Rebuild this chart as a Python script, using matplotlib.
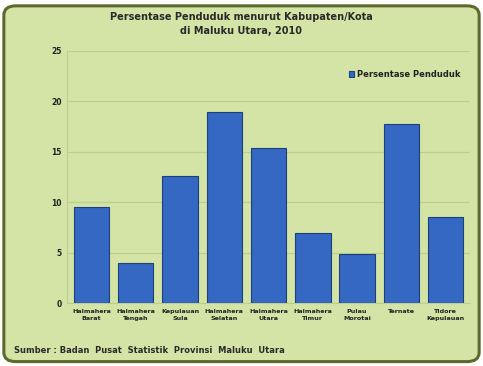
import matplotlib
matplotlib.use("Agg")
import matplotlib.pyplot as plt
from matplotlib.patches import FancyBboxPatch

categories = ["Halmahera\nBarat", "Halmahera\nTengah", "Kepulauan\nSula", "Halmahera\nSelatan",
              "Halmahera\nUtara", "Halmahera\nTimur", "Pulau\nMorotai", "Ternate", "Tidore\nKepulauan"]
values = [9.5, 4.0, 12.6, 18.9, 15.4, 6.9, 4.9, 17.8, 8.5]
yticks = [0, 5, 10, 15, 20, 25]
title = "Persentase Penduduk menurut Kabupaten/Kota\ndi Maluku Utara, 2010"
series_name = "Persentase Penduduk"
source = "Sumber : Badan  Pusat  Statistik  Provinsi  Maluku  Utara"

bg = "#d3e4a6"
fig = plt.figure(figsize=(4.83, 3.66), dpi=100)
fig.patch.set_facecolor("white")
border = FancyBboxPatch((0.008, 0.012), 0.984, 0.972, boxstyle="round,pad=0,rounding_size=0.025",
                        transform=fig.transFigure, facecolor=bg, edgecolor="#5b6a2c", linewidth=2.2,
                        zorder=-10)
fig.patches.append(border)

ax = fig.add_axes([0.139, 0.172, 0.834, 0.689])
ax.set_facecolor("none")
x = range(len(categories))
bars = ax.bar(x, values, width=0.8, color="#3568c2", edgecolor="#1d3f7a", linewidth=0.8,
              label=series_name, zorder=3)
ax.set_ylim(0, 25)
ax.set_xlim(-0.55, len(categories) - 0.45)
ax.set_yticks(yticks)
ax.set_yticklabels([str(t) for t in yticks], fontsize=5.5, fontweight="bold", color="#222222")
ax.set_xticks(list(x))
ax.set_xticklabels(categories, fontsize=4.6, fontweight="bold", color="#222222", linespacing=1.6)
ax.tick_params(axis="both", length=0, pad=4)
ax.grid(axis="y", color="#bccf8e", linewidth=0.9, zorder=0)
for s in ["top", "right"]:
    ax.spines[s].set_visible(False)
ax.spines["left"].set_color("#bccf8e")
ax.spines["bottom"].set_color("#bccf8e")

leg = ax.legend(loc="upper right", bbox_to_anchor=(0.995, 0.955), frameon=False,
                prop={"size": 6, "weight": "bold"}, handlelength=0.7, handleheight=0.7,
                handletextpad=0.3)
for t in leg.get_texts():
    t.set_color("#222222")

fig.text(0.5, 0.968, title, ha="center", va="top", fontsize=7, fontweight="bold",
         color="#2a2a2a", linespacing=1.5)
fig.text(0.03, 0.043, source, ha="left", va="center", fontsize=6, fontweight="bold", color="#2a2a2a")

fig.savefig("out.png", dpi=100, facecolor=fig.get_facecolor())
